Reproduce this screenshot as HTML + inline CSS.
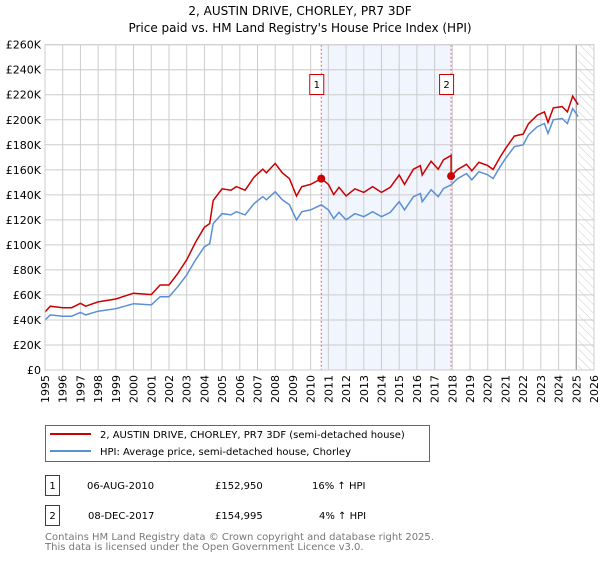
<!DOCTYPE html>
<html><head><meta charset="utf-8"><style>
body{margin:0;background:#fff;font-family:"Liberation Sans","DejaVu Sans",sans-serif;}
svg text{font-family:"DejaVu Sans","Liberation Sans",sans-serif;}
</style></head><body>
<svg id="c" width="600" height="560" viewBox="0 0 600 560" xmlns="http://www.w3.org/2000/svg">
<defs><pattern id="hatch" width="6" height="6" patternUnits="userSpaceOnUse" patternTransform="rotate(-45)"><line x1="0" y1="0" x2="0" y2="6" stroke="#ccc" stroke-width="1"/></pattern></defs>
<text x="300" y="15" text-anchor="middle" font-size="12" fill="#000">2, AUSTIN DRIVE, CHORLEY, PR7 3DF</text>
<text x="300" y="32" text-anchor="middle" font-size="12" fill="#000">Price paid vs. HM Land Registry's House Price Index (HPI)</text>
<g id="grid"></g><g id="marks"></g><g id="axes"></g>
<g>
<rect x="45.5" y="425.5" width="384" height="36" fill="#fff" stroke="#666"/>
<line x1="50" y1="434" x2="91" y2="434" stroke="#cc0000" stroke-width="2"/>
<text x="100" y="438" font-size="10">2, AUSTIN DRIVE, CHORLEY, PR7 3DF (semi-detached house)</text>
<line x1="50" y1="451" x2="91" y2="451" stroke="#5b8fd4" stroke-width="2"/>
<text x="100" y="455" font-size="10">HPI: Average price, semi-detached house, Chorley</text>
</g>
<g font-size="10">
<rect x="45.5" y="475.5" width="14" height="20" fill="#fff" stroke="#cc0000"/><text x="52.5" y="489" text-anchor="middle">1</text>
<text x="87" y="489">06-AUG-2010</text><text x="215" y="489">£152,950</text><text x="312" y="489">16% ↑ HPI</text>
<rect x="45.5" y="505.5" width="14" height="20" fill="#fff" stroke="#cc0000"/><text x="52.5" y="519" text-anchor="middle">2</text>
<text x="88" y="519">08-DEC-2017</text><text x="215" y="519">£154,995</text><text x="319" y="519">4% ↑ HPI</text>
</g>
<text x="45" y="540" font-size="10" fill="#777">Contains HM Land Registry data © Crown copyright and database right 2025.</text>
<text x="45" y="550" font-size="10" fill="#777">This data is licensed under the Open Government Licence v3.0.</text>
</svg>
<script>
const hpiYears=[1995.0,1995.3,1996.0,1996.5,1997.0,1997.3,1998.0,1999.0,2000.0,2001.0,2001.5,2002.0,2002.5,2003.0,2003.5,2004.0,2004.3,2004.5,2005.0,2005.5,2005.8,2006.3,2006.8,2007.3,2007.5,2008.0,2008.4,2008.8,2009.2,2009.5,2010.0,2010.6,2011.0,2011.3,2011.6,2012.0,2012.5,2013.0,2013.5,2014.0,2014.5,2015.0,2015.3,2015.8,2016.2,2016.3,2016.8,2017.2,2017.5,2017.93,2018.3,2018.8,2019.1,2019.5,2020.0,2020.3,2020.7,2021.0,2021.5,2022.0,2022.3,2022.8,2023.2,2023.4,2023.7,2024.2,2024.5,2024.8,2025.1];
const hpiValues=[40,44,43,43,46,44,47,49,53,52,58.6,58.6,66.6,76,88,98.5,101,117,125,124,126.5,124,133,138.5,136,142.5,136,132,120,126.5,128,132,128,121,126,120,125,122.5,126.5,122.5,126,134.5,128,138.5,141,134.5,144,138.5,145,148,153,157,152,158.5,156,153,162.5,169,178.5,180,188,194.5,197,189,200,201,197,209,202.5];
const saleYears=[2010.6,2017.93];
const salePrices=[152.95,154.995];
const saleLabels=["1","2"];
const yTicks=[0,20,40,60,80,100,120,140,160,180,200,220,240,260];
const yTickLabels=["£0","£20K","£40K","£60K","£80K","£100K","£120K","£140K","£160K","£180K","£200K","£220K","£240K","£260K"];
const xTicks=[1995,1996,1997,1998,1999,2000,2001,2002,2003,2004,2005,2006,2007,2008,2009,2010,2011,2012,2013,2014,2015,2016,2017,2018,2019,2020,2021,2022,2023,2024,2025,2026];
const dataEnd=2025.1;
const NS="http://www.w3.org/2000/svg";
const X0=45,X1=594,Y0=370,Y1=44.7;
const x=v=>X0+(v-1995)/31*(X1-X0);
const y=v=>Y0-v/260*(Y0-Y1);
function mk(t,a,p){const e=document.createElementNS(NS,t);for(const k in a)e.setAttribute(k,a[k]);p.appendChild(e);return e;}
const grid=document.getElementById('grid'),marks=document.getElementById('marks'),axes=document.getElementById('axes');
// shaded sale period
const sh=mk('rect',{x:x(saleYears[0]),y:Y1,width:x(saleYears[1])-x(saleYears[0]),height:Y0-Y1,fill:'#eef2fc',opacity:0.8},grid);


const ht=mk('rect',{x:x(dataEnd),y:Y1,width:X1-x(dataEnd),height:Y0-Y1,fill:'url(#hatch)'},grid);


yTicks.forEach((t,i)=>{
 const l=mk('line',{x1:X0,x2:X1,y1:y(t),y2:y(t),stroke:'#ccc'},grid);
 
 
 const tx=mk('text',{x:X0-4,y:y(t)+4,'text-anchor':'end','font-size':11},axes);
 tx.textContent=yTickLabels[i];
 
 
});
xTicks.forEach(t=>{
 const l=mk('line',{x1:x(t),x2:x(t),y1:Y1,y2:Y0,stroke:'#ccc'},grid);
 
 
 const tx=mk('text',{x:0,y:0,'text-anchor':'end','font-size':11,transform:`translate(${x(t)+4},${Y0+5}) rotate(-90)`},axes);
 tx.textContent=t;
 
 
});
const dl=mk('line',{x1:x(2025),x2:x(2025),y1:Y1,y2:Y0,stroke:'#999','stroke-width':1.2},grid);


// property line scaled from HPI
function hpiAt(yr){for(let i=0;i<hpiYears.length-1;i++){if(yr<=hpiYears[i+1]){const f=(yr-hpiYears[i])/(hpiYears[i+1]-hpiYears[i]);return hpiValues[i]+f*(hpiValues[i+1]-hpiValues[i]);}}return hpiValues[hpiValues.length-1];}
const r1=salePrices[0]/hpiAt(saleYears[0]),r2=salePrices[1]/hpiAt(saleYears[1]);
let bp='',rp='';
hpiYears.forEach((yr,i)=>{bp+=(i?'L':'M')+x(yr).toFixed(1)+','+y(hpiValues[i]).toFixed(1);});
const redPts=[];
hpiYears.forEach((yr,i)=>{if(yr<=saleYears[1])redPts.push([yr,hpiValues[i]*r1]);});
redPts.push([saleYears[1],salePrices[1]]);
hpiYears.forEach((yr,i)=>{if(yr>saleYears[1])redPts.push([yr,hpiValues[i]*r2]);});
redPts.forEach((p,i)=>{rp+=(i?'L':'M')+x(p[0]).toFixed(1)+','+y(p[1]).toFixed(1);});
saleYears.forEach((s,i)=>{
 const v=mk('line',{x1:x(s),x2:x(s),y1:Y1,y2:Y0,stroke:'#e06666','stroke-dasharray':'2,2'},marks);
 
 
});
const hl=mk('path',{d:bp,fill:'none',stroke:'#5b8fd4','stroke-width':1.5},marks);


const pl=mk('path',{d:rp,fill:'none',stroke:'#cc0000','stroke-width':1.5},marks);


saleYears.forEach((s,i)=>{
 const c=mk('circle',{cx:x(s),cy:y(salePrices[i]),r:4,fill:'#cc0000'},marks);
 
 
 const b=mk('rect',{x:x(s)-11.5,y:74.5,width:14,height:20,fill:'#fff',stroke:'#cc0000'},marks);
 
 
 const t=mk('text',{x:x(s)-4.5,y:88,'text-anchor':'middle','font-size':10},marks);
 t.textContent=saleLabels[i];
 
 
});
const fr=mk('rect',{x:X0,y:Y1,width:X1-X0,height:Y0-Y1,fill:'none',stroke:'#ccc'},axes);


</script>
</body></html>
